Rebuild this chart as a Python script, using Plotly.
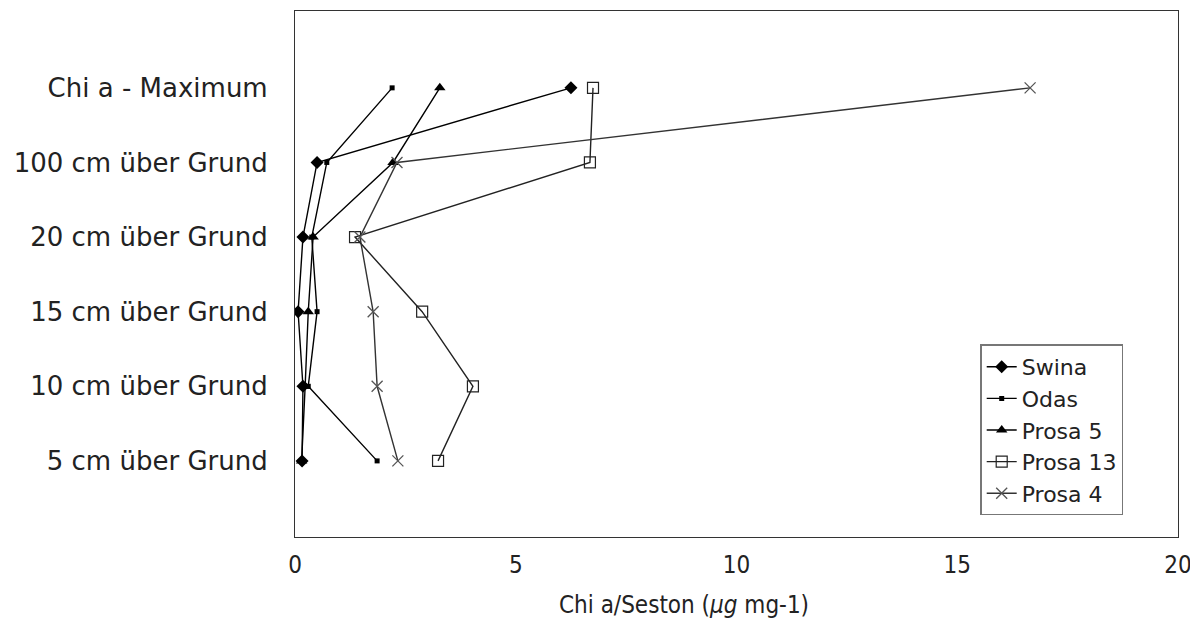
import plotly.graph_objects as go

# depth levels, listed top-down as they appear in the chart
levels = ["Chi a - Maximum", "100 cm über Grund", "20 cm über Grund",
          "15 cm über Grund", "10 cm über Grund", "5 cm über Grund"]
# order from bottom to top on the axis
axis_order = ["5 cm über Grund", "10 cm über Grund", "15 cm über Grund",
              "20 cm über Grund", "100 cm über Grund", "Chi a - Maximum"]

swina = [6.25, 0.50, 0.18, 0.07, 0.18, 0.16]
odas = [2.20, 0.72, 0.38, 0.50, 0.30, 1.86]
prosa5 = [3.28, 2.22, 0.41, 0.30, 0.23, 0.15]
prosa13 = [6.75, 6.68, 1.36, 2.88, 4.03, 3.24]
prosa4 = [16.65, 2.31, 1.47, 1.77, 1.86, 2.33]

x_ticks = [0, 5, 10, 15, 20]

series = [
    ("Swina", swina, dict(symbol="diamond", size=10, color="black"), "black"),
    ("Odas", odas, dict(symbol="square", size=5, color="black"), "black"),
    ("Prosa 5", prosa5, dict(symbol="triangle-up", size=10, color="black"), "black"),
    ("Prosa 13", prosa13, dict(symbol="square-open", size=11, color="#222", line=dict(width=1.2)), "#222"),
    ("Prosa 4", prosa4, dict(symbol="x-thin-open", size=11, color="#555", line=dict(width=1.3)), "#333"),
]

fig = go.Figure()
for name, vals, marker, lc in series:
    fig.add_trace(go.Scatter(
        x=vals, y=levels, name=name, mode="lines+markers",
        line=dict(color=lc, width=1.4), marker=marker,
    ))

tick_font_y = dict(family="DejaVu Sans, Liberation Sans, Arial", size=26, color="#222")
narrow = "Liberation Sans Narrow, DejaVu Sans Condensed, Arial Narrow, sans-serif"

# the page body adds an 8px offset, so the figure is 8px smaller than the window
fig.update_layout(
    width=1190, height=620,
    margin=dict(l=287, r=20, t=3, b=91),
    paper_bgcolor="white", plot_bgcolor="white",
    showlegend=True,
    legend=dict(
        x=0.776, y=0.366, xanchor="left", yanchor="top",
        bgcolor="white", bordercolor="#777", borderwidth=1.5,
        font=dict(family="DejaVu Sans, Liberation Sans, Arial", size=22, color="#222"),
        tracegroupgap=0, itemwidth=30,
    ),
    xaxis=dict(
        range=[0, 20], tickvals=x_ticks, ticktext=[str(v) for v in x_ticks],
        showgrid=False, zeroline=False, showline=True, linecolor="#333",
        linewidth=1.2, mirror=True, ticks="", automargin=False,
        tickfont=dict(family=narrow, size=24, color="#222"),
        ticklabelstandoff=6,
    ),
    yaxis=dict(
        type="category", categoryorder="array", categoryarray=axis_order,
        range=[-1.02, 6.03], automargin=False,
        showgrid=False, zeroline=False, showline=True, linecolor="#333",
        linewidth=1.2, mirror=True, ticks="",
        tickfont=tick_font_y, ticklabelstandoff=21,
    ),
    annotations=[dict(
        text="Chi a/Seston (<i>μg</i> mg-1)", xref="paper", yref="paper",
        x=0.44, y=-0.13, xanchor="center", yanchor="middle", showarrow=False,
        font=dict(family=narrow, size=24, color="#222"),
    )],
)

fig.write_html("out.html")
